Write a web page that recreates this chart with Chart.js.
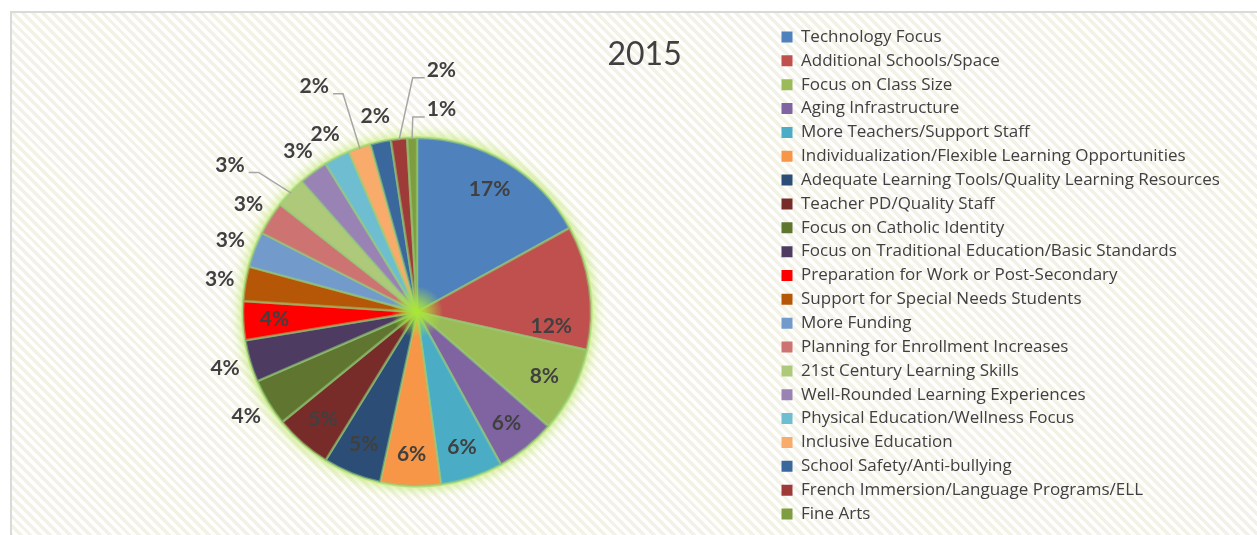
<!DOCTYPE html>
<html><head><meta charset="utf-8">
<script src="https://cdn.jsdelivr.net/npm/chart.js@4.4.1/dist/chart.umd.min.js"></script>
<style>
html,body{margin:0;padding:0;background:#fff;}
#wrap{position:relative;width:1257px;height:535px;overflow:hidden;}
#frame{position:absolute;left:10px;top:10.5px;width:1300px;height:600px;border-top:2px solid #dadada;border-left:2px solid #dadada;
 background:repeating-linear-gradient(45deg,#ffffff 0px,#ffffff 3.5px,#f3f2e6 3.5px,#f3f2e6 7px);}
canvas{position:absolute;left:0;top:0;}
</style></head><body>
<div id="wrap"><div id="frame"></div><canvas id="c" width="1257" height="535"></canvas></div>
<script>
const chartTitle = '2015';
const categories = [
  'Technology Focus',
  'Additional Schools/Space',
  'Focus on Class Size',
  'Aging Infrastructure',
  'More Teachers/Support Staff',
  'Individualization/Flexible Learning Opportunities',
  'Adequate Learning Tools/Quality Learning Resources',
  'Teacher PD/Quality Staff',
  'Focus on Catholic Identity',
  'Focus on Traditional Education/Basic Standards',
  'Preparation for Work or Post-Secondary',
  'Support for Special Needs Students',
  'More Funding',
  'Planning for Enrollment Increases',
  '21st Century Learning Skills',
  'Well-Rounded Learning Experiences',
  'Physical Education/Wellness Focus',
  'Inclusive Education',
  'School Safety/Anti-bullying',
  'French Immersion/Language Programs/ELL',
  'Fine Arts'
];
const shares = [17.0, 11.5, 7.9, 5.6, 5.8, 5.6, 5.4, 5.3, 4.4, 3.9, 3.6, 3.2, 3.3, 3.1, 2.9, 2.7, 2.4, 2.1, 1.9, 1.5, 0.9];
const sliceColors = ['#4F81BD','#C0504D','#9BBB59','#8064A2','#4BACC6','#F79646','#2C4D75','#772C2A','#5F7530','#4D3B62',
  '#FF0000','#B65708','#729ACA','#CD7371','#AFC97A','#9983B5','#6FBDD1','#F9AB6B','#3A679C','#9E3B38','#7E9C40'];

// label placement styling (not data)
const PIE_R = 174;
const labelMode = ['in','in','in','in','in','in','in','in','out','out','in','out','out','out','lead','out','out','lead','out','lead','lead'];
const labelTweak = {1:{r:135, da:14}, 14:{r:PIE_R+64, da:-5.2}, 17:{r:PIE_R+74, da:-5.2}, 19:{r:PIE_R+69, da:11.7}, 20:{r:PIE_R+30, da:8.5}};
const TEXT = '#404040';
const LEGEND_FONT = {family: "'Open Sans'", size: 17};

const glowPlugin = {
  id: 'glow',
  beforeDatasetsDraw(chart) {
    const arc = chart.getDatasetMeta(0).data[0];
    if (!arc) return;
    const {x, y, outerRadius} = arc.getProps(['x','y','outerRadius'], true);
    const ctx = chart.ctx;
    ctx.save();
    ctx.shadowColor = 'rgba(190,232,100,1)';
    ctx.shadowBlur = 14;
    ctx.fillStyle = '#c8ea8c';
    ctx.beginPath(); ctx.arc(x, y, outerRadius + 2, 0, Math.PI * 2); ctx.fill();
    ctx.restore();
  },
  afterDatasetsDraw(chart) {
    const arc = chart.getDatasetMeta(0).data[0];
    if (!arc) return;
    const {x, y} = arc.getProps(['x','y'], true);
    const ctx = chart.ctx;
    ctx.save();
    const g = ctx.createRadialGradient(x, y, 0, x, y, 26);
    g.addColorStop(0, 'rgba(170,232,50,1)');
    g.addColorStop(0.35, 'rgba(170,228,60,0.75)');
    g.addColorStop(1, 'rgba(170,228,60,0)');
    ctx.fillStyle = g;
    ctx.beginPath(); ctx.arc(x, y, 26, 0, Math.PI * 2); ctx.fill();
    ctx.restore();
  }
};

const labelPlugin = {
  id: 'sliceLabels',
  afterDatasetsDraw(chart) {
    const meta = chart.getDatasetMeta(0);
    const ctx = chart.ctx;
    ctx.save();
    ctx.font = 'bold 21px Lato';
    ctx.fillStyle = TEXT;
    ctx.textAlign = 'center';
    ctx.textBaseline = 'middle';
    meta.data.forEach((arc, i) => {
      const p = arc.getProps(['x','y','startAngle','endAngle','outerRadius'], true);
      const mid = (p.startAngle + p.endAngle) / 2;
      const mode = labelMode[i];
      const tw = labelTweak[i] || {};
      let r = mode === 'in' ? p.outerRadius * 0.82 : p.outerRadius + 26;
      if (tw.r !== undefined) r = tw.r;
      const a = mid + (tw.da || 0) * Math.PI / 180;
      const lx = p.x + Math.cos(a) * r;
      const ly = p.y + Math.sin(a) * r;
      const txt = Math.round(shares[i]) + '%';
      if (mode === 'lead') {
        const w = ctx.measureText(txt).width;
        const ex = p.x + Math.cos(mid) * (p.outerRadius - 1);
        const ey = p.y + Math.sin(mid) * (p.outerRadius - 1);
        let sx, kx;
        const sy = ly + 7.5;
        if (lx < ex) { sx = lx + w / 2 + 4; kx = sx + 10; }
        else { sx = lx - w / 2 - 2; kx = sx - 12; }
        ctx.save();
        ctx.strokeStyle = '#a6a6a6';
        ctx.lineWidth = 1.5;
        ctx.beginPath(); ctx.moveTo(sx, sy); ctx.lineTo(kx, sy); ctx.lineTo(ex, ey); ctx.stroke();
        ctx.restore();
      }
      ctx.fillText(txt, lx, ly);
    });
    ctx.restore();
  }
};

function build() {
  const LEG_PAD = 6.85;
  const chart = new Chart(document.getElementById('c'), {
    type: 'pie',
    data: {
      labels: categories,
      datasets: [{
        data: shares,
        backgroundColor: sliceColors,
        borderColor: 'rgba(150,205,120,0.55)',
        borderWidth: 2.5
      }]
    },
    options: {
      responsive: false,
      devicePixelRatio: 1,
      animation: false,
      radius: PIE_R,
      layout: {padding: {top: 21.65, left: 60.85, right: 10, bottom: 1}},
      plugins: {
        tooltip: {enabled: false},
        title: {
          display: true, text: chartTitle, color: TEXT,
          font: {family: 'Lato', size: 32, weight: 'normal'},
          padding: {top: 14.15, bottom: 15.8}
        },
        legend: {
          position: 'right', align: 'start', fullSize: true,
          labels: {
            boxWidth: 11, boxHeight: 11, padding: LEG_PAD, color: TEXT,
            font: LEGEND_FONT,
            generateLabels: (ch) => categories.map((t, i) => ({
              text: t, fillStyle: sliceColors[i], strokeStyle: sliceColors[i],
              lineWidth: 0, hidden: false, index: i, fontColor: TEXT
            }))
          }
        }
      }
    },
    plugins: [glowPlugin, labelPlugin]
  });
  // adjust layout so legend text starts at x=800 and pie centre is at x=417
  for (let k = 0; k < 3; k++) {
    const pad = chart.options.layout.padding;
    const dxLeg = (chart.legend.left + LEG_PAD) - 781.5;
    pad.right += dxLeg;
    chart.update('none');
    const ca = chart.chartArea;
    const cx = (ca.left + ca.right) / 2;
    pad.left += (417 - cx) * 2;
    chart.update('none');
  }
}
if (document.fonts && document.fonts.load) {
  Promise.all([document.fonts.load("17px 'Open Sans'"), document.fonts.load('bold 21px Lato'), document.fonts.load('32px Lato')])
    .then(build, build);
} else build();
</script>
</body></html>
